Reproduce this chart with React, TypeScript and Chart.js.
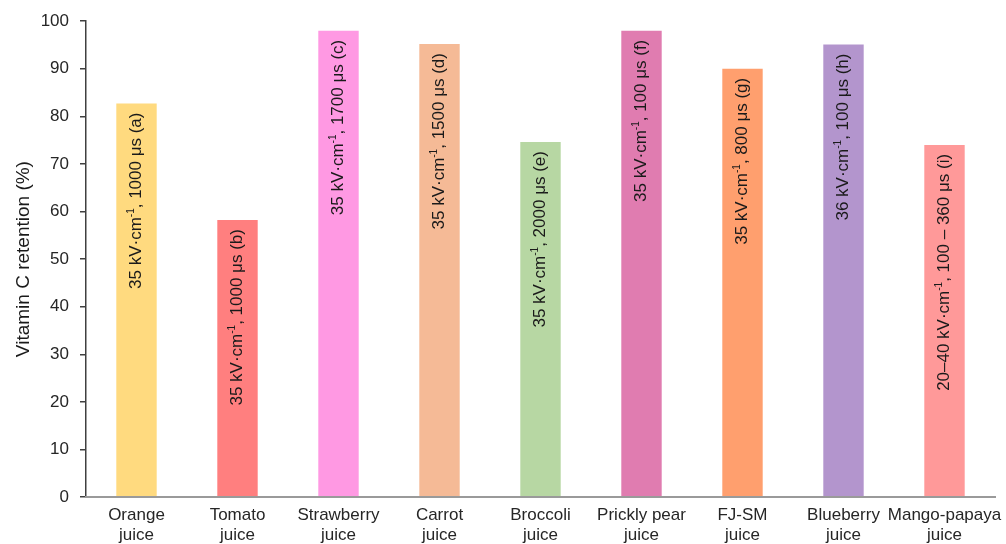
import React, { useEffect, useRef } from "react";
import { Chart, registerables } from "chart.js";

Chart.register(...registerables);

const categories: string[][] = [
  ["Orange", "juice"],
  ["Tomato", "juice"],
  ["Strawberry", "juice"],
  ["Carrot", "juice"],
  ["Broccoli", "juice"],
  ["Prickly pear", "juice"],
  ["FJ-SM", "juice"],
  ["Blueberry", "juice"],
  ["Mango-papaya", "juice"],
];

const retention: number[] = [82.7, 58.2, 98.0, 95.2, 74.6, 98.0, 90.0, 95.1, 74.0];

const barColors: string[] = [
  "#FFDA7F",
  "#FF7F7F",
  "#FF99E3",
  "#F5BA96",
  "#B7D7A3",
  "#E07CB0",
  "#FF9F6E",
  "#B395CD",
  "#FF9999",
];

const fieldStrengths: string[] = ["35", "35", "35", "35", "35", "35", "35", "36", "20–40"];
const pulseTimes: string[] = [
  "1000 μs (a)",
  "1000 μs (b)",
  "1700 μs (c)",
  "1500 μs (d)",
  "2000 μs (e)",
  "100 μs (f)",
  "800 μs (g)",
  "100 μs (h)",
  "100 – 360 μs (i)",
];

const yTicks = { min: 0, max: 100, step: 10 };

const FONT = "'Liberation Sans', Arial, sans-serif";

const barLabelPlugin = {
  id: "barLabels",
  afterDatasetsDraw(chart: any) {
    const meta = chart.getDatasetMeta(0);
    const ctx = chart.ctx;
    const mainFont = `17px ${FONT}`;
    const supFont = `10px ${FONT}`;
    meta.data.forEach((bar: any, i: number) => {
      const segs = [
        { t: `${fieldStrengths[i]} kV·cm`, f: mainFont, dy: 0 },
        { t: "-1", f: supFont, dy: -5 },
        { t: `, ${pulseTimes[i]}`, f: mainFont, dy: 0 },
      ];
      let total = 0;
      const widths = segs.map((s) => {
        ctx.font = s.f;
        const w = ctx.measureText(s.t).width;
        total += w;
        return w;
      });
      ctx.save();
      ctx.translate(bar.x, bar.y + 9);
      ctx.rotate(-Math.PI / 2);
      ctx.fillStyle = "#1a1a1a";
      ctx.textBaseline = "middle";
      ctx.textAlign = "left";
      let x = -total;
      segs.forEach((s, k) => {
        ctx.font = s.f;
        ctx.fillText(s.t, x, s.dy);
        x += widths[k];
      });
      ctx.restore();
    });
  },
};

export default function App() {
  const canvasRef = useRef<HTMLCanvasElement | null>(null);

  useEffect(() => {
    if (!canvasRef.current) return;
    const chart = new Chart(canvasRef.current, {
      type: "bar",
      data: {
        labels: categories,
        datasets: [
          {
            data: retention,
            backgroundColor: barColors,
            borderWidth: 0,
            barPercentage: 0.4,
            categoryPercentage: 1,
          },
        ],
      },
      options: {
        responsive: false,
        animation: false,
        layout: { padding: { top: 20, right: 11, left: 0, bottom: 0 } },
        plugins: {
          legend: { display: false },
          tooltip: { enabled: false },
        },
        scales: {
          x: {
            grid: { display: false, drawTicks: false },
            border: { display: true, color: "#9a9a9a", width: 2, z: 1 },
            ticks: {
              color: "#262626",
              font: { family: FONT, size: 17, lineHeight: 1.2 },
              padding: 8,
              maxRotation: 0,
              autoSkip: false,
            },
            afterFit: (scale: any) => {
              scale.height = 47;
              scale.paddingLeft = 0;
              scale.paddingRight = 0;
            },
          },
          y: {
            min: yTicks.min,
            max: yTicks.max,
            grid: {
              display: true,
              drawOnChartArea: false,
              drawTicks: true,
              tickLength: 6,
              color: "#404040",
              lineWidth: 1.5,
            },
            border: { display: true, color: "#404040", width: 1.5 },
            ticks: {
              stepSize: yTicks.step,
              color: "#262626",
              font: { family: FONT, size: 17 },
              padding: 11,
            },
            title: {
              display: true,
              text: "Vitamin C retention (%)",
              color: "#1a1a1a",
              font: { family: FONT, size: 19 },
              padding: { top: 12, bottom: 0 },
            },
            afterFit: (scale: any) => {
              scale.width = 86;
            },
          },
        },
      },
      plugins: [barLabelPlugin],
    });
    return () => chart.destroy();
  }, []);

  return (
    <div style={{ position: "fixed", left: 0, top: 0, width: 1006, height: 544, background: "#fff" }}>
      <canvas ref={canvasRef} width={1006} height={544} style={{ display: "block" }} />
    </div>
  );
}
